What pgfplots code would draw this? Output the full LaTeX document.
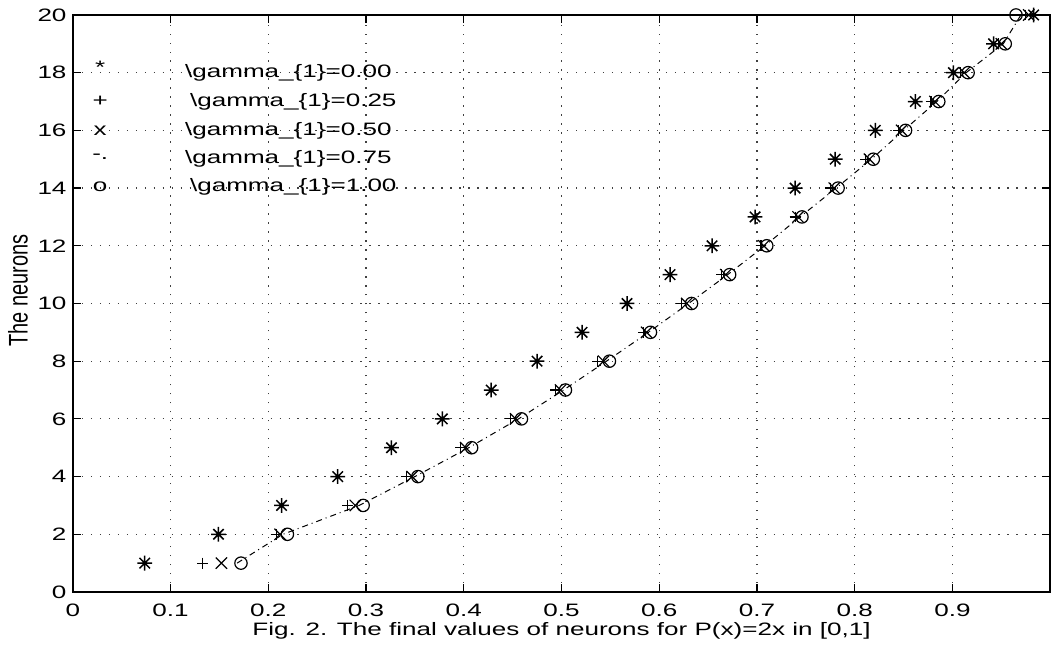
\documentclass[border=0pt]{standalone}
\usepackage{pgfplots}
\pgfplotsset{compat=1.18}
\usepackage{fontspec}
\usepackage{graphicx}
\setmainfont{Liberation Sans}[FakeStretch=1.45]
\newfontfamily\plainfont{Liberation Sans}

\pgfdeclareplotmark{mstar}{%
 \pgfpathmoveto{\pgfqpoint{-\pgfplotmarksize}{0pt}}\pgfpathlineto{\pgfqpoint{\pgfplotmarksize}{0pt}}%
 \pgfpathmoveto{\pgfqpoint{0pt}{-\pgfplotmarksize}}\pgfpathlineto{\pgfqpoint{0pt}{\pgfplotmarksize}}%
 \pgfpathmoveto{\pgfqpoint{-.7071\pgfplotmarksize}{-.7071\pgfplotmarksize}}\pgfpathlineto{\pgfqpoint{.7071\pgfplotmarksize}{.7071\pgfplotmarksize}}%
 \pgfpathmoveto{\pgfqpoint{-.7071\pgfplotmarksize}{.7071\pgfplotmarksize}}\pgfpathlineto{\pgfqpoint{.7071\pgfplotmarksize}{-.7071\pgfplotmarksize}}%
 \pgfusepathqstroke}

\begin{document}
\fontsize{9}{11}\selectfont
\begin{tikzpicture}
\begin{axis}[
 scale only axis, width=489.5pt, height=289pt,
 xmin=0, xmax=1, ymin=0, ymax=20,
 xtick={0,0.1,0.2,0.3,0.4,0.5,0.6,0.7,0.8,0.9},
 ytick={0,2,4,6,8,10,12,14,16,18,20},
 /pgf/number format/assume math mode=true,
 xticklabel style={/pgf/number format/fixed, /pgf/number format/precision=1, anchor=base, yshift=-12.5pt},
 grid=major,
 major grid style={black!75, line width=0.6pt, dash pattern=on 0.7pt off 3.8pt},
 tick align=inside, major tick length=4pt,
 tick style={black, line width=0.6pt},
 axis line style={black, line width=0.8pt},
 xlabel={Fig. 2. The final values of neurons for P(x)=2x in [0,1]},
 ylabel={\plainfont\fontsize{10}{12}\selectfont\scalebox{1}[1.35]{The neurons}},
 xlabel style={at={(axis description cs:0.5,-0.0761)}, anchor=base},
 ylabel style={at={(axis description cs:-0.0562,0.522)}, anchor=center},
]
% gamma_1 = 0.00
\addplot[only marks, mark=mstar, mark size=3.7pt, black, mark options={line width=0.75pt}] coordinates {
(0.0735,1) (0.149,2) (0.2135,3) (0.271,4) (0.326,5) (0.378,6) (0.428,7) (0.475,8) (0.521,9) (0.567,10)
(0.611,11) (0.654,12) (0.698,13) (0.739,14) (0.780,15) (0.821,16) (0.862,17) (0.901,18) (0.942,19) (0.983,20)};
% gamma_1 = 0.25
\addplot[only marks, mark=+, mark size=2.7pt, black, mark options={line width=0.6pt}] coordinates {
(0.133,1) (0.208,2) (0.281,3) (0.341,4) (0.397,5) (0.448,6) (0.494,7) (0.537,8) (0.584,9) (0.623,10)
(0.664,11) (0.704,12) (0.739,13) (0.775,14) (0.811,15) (0.845,16) (0.878,17) (0.908,18) (0.947,19) (0.975,20)};
% gamma_1 = 0.50
\addplot[only marks, mark=x, mark size=4.0pt, black, mark options={line width=0.6pt}] coordinates {
(0.152,1) (0.212,2) (0.289,3) (0.347,4) (0.402,5) (0.453,6) (0.499,7) (0.543,8) (0.587,9) (0.628,10)
(0.668,11) (0.707,12) (0.742,13) (0.779,14) (0.815,15) (0.848,16) (0.882,17) (0.912,18) (0.950,19) (0.978,20)};
% gamma_1 = 0.75
\addplot[black, line width=0.5pt, dash pattern=on 3pt off 2pt on 0.5pt off 2pt, mark=none] coordinates {
(0.168,1) (0.215,2) (0.293,3) (0.350,4) (0.405,5) (0.456,6) (0.502,7) (0.546,8) (0.589,9) (0.630,10)
(0.670,11) (0.708,12) (0.744,13) (0.781,14) (0.817,15) (0.850,16) (0.884,17) (0.914,18) (0.952,19) (0.970,20)};
% gamma_1 = 1.00
\addplot[only marks, mark=o, mark size=3.1pt, black, mark options={line width=0.6pt}] coordinates {
(0.172,1) (0.2195,2) (0.297,3) (0.353,4) (0.408,5) (0.459,6) (0.504,7) (0.549,8) (0.591,9) (0.633,10)
(0.672,11) (0.710,12) (0.746,13) (0.783,14) (0.819,15) (0.852,16) (0.886,17) (0.916,18) (0.954,19) (0.965,20)};
% legend (text, as in the original print)
\node at (axis cs:0.028,18.2) {*};
\node at (axis cs:0.028,17.0) {+};
\node at (axis cs:0.028,15.97) {x};
\node at (axis cs:0.028,15.1) {-.};
\node at (axis cs:0.028,14.05) {o};
\node[anchor=west, inner sep=0pt] at (axis cs:0.1144,18.0) {\textbackslash gamma\_\{1\}=0.00};
\node[anchor=west, inner sep=0pt] at (axis cs:0.1195,17.0) {\textbackslash gamma\_\{1\}=0.25};
\node[anchor=west, inner sep=0pt] at (axis cs:0.1144,16.0) {\textbackslash gamma\_\{1\}=0.50};
\node[anchor=west, inner sep=0pt] at (axis cs:0.1144,15.0) {\textbackslash gamma\_\{1\}=0.75};
\node[anchor=west, inner sep=0pt] at (axis cs:0.1195,14.05) {\textbackslash gamma\_\{1\}=1.00};
\end{axis}
\path (current axis.south west) ++(-36.5pt,-27pt);
\path (current axis.north east) ++(0pt,7.5pt);
\end{tikzpicture}
\end{document}
